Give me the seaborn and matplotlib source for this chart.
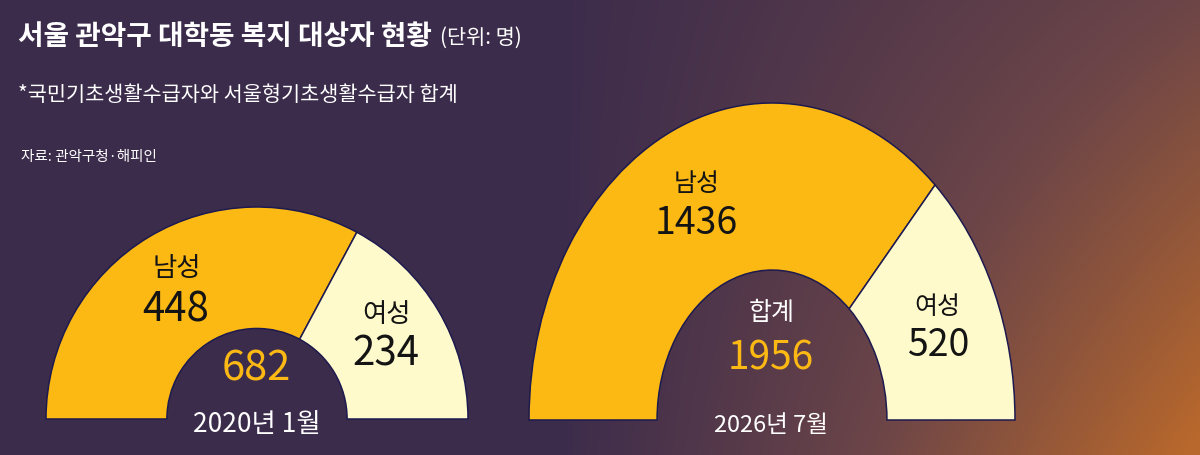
import numpy as np
import matplotlib
matplotlib.use("Agg")
import matplotlib.pyplot as plt
import seaborn as sns

# ---- data ----
periods = ["2020년 1월", "2026년 7월"]
male = [448, 1436]
female = [234, 520]
totals = [682, 1956]
seg_names = ["남성", "여성"]
total_name = "합계"
title = "서울 관악구 대학동 복지 대상자 현황"
unit = "(단위: 명)"
subtitle = "*국민기초생활수급자와 서울형기초생활수급자 합계"
source = "자료: 관악구청·해피인"

sns.set_theme(style="white")
plt.rcParams["font.family"] = ["Noto Sans CJK KR", "DejaVu Sans"]

W, H = 1200, 455
fig = plt.figure(figsize=(W / 100, H / 100), dpi=100)

GOLD = "#FDB913"
CREAM = "#FFFACB"
NAVY = "#1d1a4f"
WHITE = "#FFFFFF"
INK = "#141414"

# ---- background gradient ----
bg = fig.add_axes([0, 0, 1, 1], zorder=0)
yy, xx = np.mgrid[0:H, 0:W].astype(float)
xp = np.clip((xx - 560.0) / 640.0, 0, 1)
yp = yy / H
s = np.clip(0.51 * xp + 0.52 * xp * yp, 0, 1)
purple = np.array([60, 44, 76]) / 255.0
brown = np.array([108, 69, 72]) / 255.0
orange = np.array([184, 104, 44]) / 255.0
s1 = np.clip(s / 0.5, 0, 1)[..., None]
s2 = np.clip((s - 0.5) / 0.5, 0, 1)[..., None]
img = purple + (brown - purple) * s1 + (orange - brown) * s2
bg.imshow(img, extent=[0, W, H, 0], aspect="auto", interpolation="bilinear")
bg.set_xlim(0, W)
bg.set_ylim(H, 0)
bg.axis("off")


def fx(x):
    return x / W


def fy(y):
    return 1 - y / H


# ---- half donuts ----
# geometry in pixels: (left, right, baseline, top, inner ratio)
geoms = [(46, 468, 419, 207, 0.427), (529, 1015, 420, 103, 0.473)]
for i, (l, r, base, top, inner) in enumerate(geoms):
    ax = fig.add_axes([fx(l), fy(base), (r - l) / W, (base - top) / H], zorder=2)
    vals = [male[i], female[i], male[i] + female[i]]
    wedges, _ = ax.pie(vals, startangle=180, counterclock=False,
                       colors=[GOLD, CREAM, "none"], radius=1,
                       wedgeprops=dict(width=1 - inner, edgecolor=NAVY, linewidth=1.1))
    wedges[2].set_visible(False)
    for w in wedges:
        w.set_clip_on(False)
    ax.set_aspect("auto")
    ax.set_xlim(-1, 1)
    ax.set_ylim(0, 1)
    ax.axis("off")


def txt(x, y, s, size, color, weight="normal", ha="center"):
    return fig.text(fx(x), fy(y), s, fontsize=size, color=color, ha=ha, va="center",
                    fontweight=weight, zorder=5)


# left chart labels
txt(177, 268, seg_names[0], 19, INK)
txt(176, 310, f"{male[0]}", 29, INK)
txt(387, 315, seg_names[1], 19, INK)
txt(386, 354, f"{female[0]}", 29, INK)
txt(256, 369, f"{totals[0]}", 30, GOLD)
txt(257, 425, periods[0], 19, WHITE)

# right chart labels
txt(697, 184, seg_names[0], 18, INK)
txt(696, 223, f"{male[1]}", 27, INK)
txt(937, 307, seg_names[1], 18, INK)
txt(938, 345, f"{female[1]}", 27, INK)
txt(772, 313, total_name, 18, WHITE)
txt(771, 359, f"{totals[1]}", 28, GOLD)
txt(771, 425, periods[1], 17, WHITE)

# titles
tt = txt(18, 37, title, 20, WHITE, weight="bold", ha="left")
fig.canvas.draw()
bb = tt.get_window_extent()
fig.text((bb.x1 + 8) / W, fy(38), unit, fontsize=15, color=WHITE,
         ha="left", va="center", zorder=5)
txt(18, 95, subtitle, 15, WHITE, ha="left")
txt(21, 157, source, 10.5, WHITE, ha="left")

fig.savefig("out.png", dpi=100)
